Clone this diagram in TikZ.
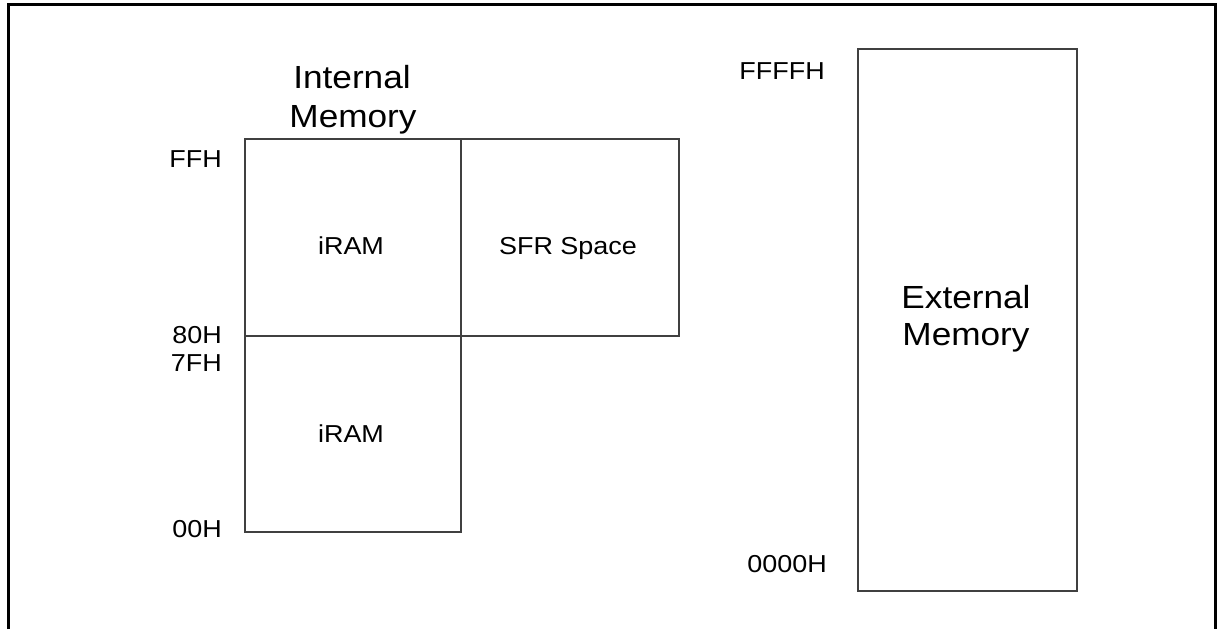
\documentclass[tikz,border=0pt]{standalone}
\usepackage{fontspec}
\setmainfont[FakeStretch=1.1]{Liberation Sans}
\begin{document}
\begin{tikzpicture}[x=1pt,y=-1pt,
  membox/.style={draw=black!75, line width=1.5pt, inner sep=0pt, anchor=north west},
  small/.style={font=\fontsize{24.5}{28}\selectfont, inner sep=0pt},
  big/.style={font=\fontsize{32}{39}\selectfont, inner sep=0pt}]
\useasboundingbox (0,0) rectangle (1223,629);
\draw[line width=3pt, black] (8,629) -- (8,4) -- (1215,4) -- (1215,629);
% boxes
\node[membox, minimum width=216pt, minimum height=197pt] (iramhi) at (244,138) {};
\node[membox, minimum width=218pt, minimum height=197pt] (sfr) at (460,138) {};
\node[membox, minimum width=216pt, minimum height=196pt] (iramlo) at (244,335) {};
\node[membox, minimum width=219pt, minimum height=542pt] (ext) at (857,48) {};
% headings
\node[big, anchor=base] (int1) at (352,88) {Internal};
\node[big, anchor=base] (int2) at (353,127) {Memory};
\node[big, anchor=base] (ext1) at (966,308) {External};
\node[big, anchor=base] (ext2) at (966,345) {Memory};
% box labels
\node[small, anchor=base] (l1) at (351,254) {iRAM};
\node[small, anchor=base] (l2) at (568,254) {SFR Space};
\node[small, anchor=base] (l3) at (351,442) {iRAM};
% addresses
\node[small, anchor=base east] (a1) at (222,167) {FFH};
\node[small, anchor=base east] (a2) at (222,343) {80H};
\node[small, anchor=base east] (a3) at (222,371) {7FH};
\node[small, anchor=base east] (a4) at (222,537) {00H};
\node[small, anchor=base east] (a5) at (825,79) {FFFFH};
\node[small, anchor=base east] (a6) at (827,572) {0000H};
\end{tikzpicture}
\end{document}
